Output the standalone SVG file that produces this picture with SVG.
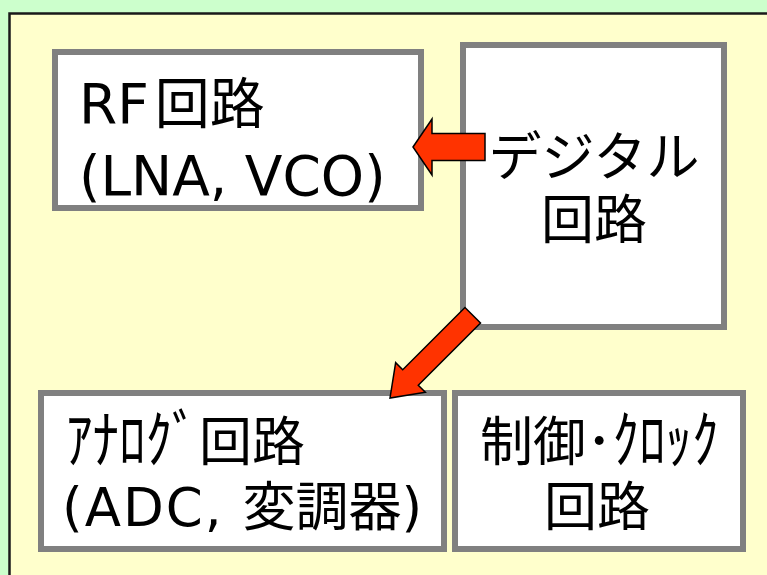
<svg xmlns="http://www.w3.org/2000/svg" width="767" height="575" viewBox="0 0 767 575">
<style>
.box{fill:#FFFFFF;stroke:#808080;stroke-width:6}
.t{font-family:"DejaVu Sans","Noto Sans CJK JP",sans-serif;fill:#000000}
.arr{fill:#FF3300;stroke:#000000;stroke-width:1.5;stroke-linejoin:miter}
</style>
<rect x="0" y="0" width="767" height="575" fill="#CCFFCC"/>
<rect x="9.5" y="13.5" width="800" height="600" fill="#FFFFCC" stroke="#1a1a1a" stroke-width="2.5"/>
<g id="rf">
<rect class="box" x="55" y="52" width="366" height="156"/>
<text class="t" x="79" y="123" font-size="55">RF<tspan dx="6">回路</tspan></text>
<text class="t" x="79" y="195" font-size="55">(LNA, VCO)</text>
</g>
<g id="digital">
<rect class="box" x="463" y="45" width="261" height="282"/>
<text class="t" x="594" y="176" font-size="53" text-anchor="middle">デジタル</text>
<text class="t" x="594" y="239" font-size="53" text-anchor="middle">回路</text>
</g>
<g id="analog">
<rect class="box" x="41" y="393" width="403" height="156"/>
<text class="t" font-size="53" transform="translate(66,462) scale(1,1.18)">ｱﾅﾛｸﾞ</text>
<text class="t" x="199" y="461" font-size="53">回路</text>
<text class="t" x="62" y="526" font-size="53"><tspan letter-spacing="2">(ADC, </tspan>変調器)</text>
</g>
<g id="control">
<rect class="box" x="455" y="393" width="288" height="156"/>
<text class="t" x="480" y="461" font-size="53">制御･</text>
<text class="t" font-size="53" transform="translate(612.5,462) scale(1,1.18)">ｸﾛｯｸ</text>
<text class="t" x="597" y="526" font-size="53" text-anchor="middle">回路</text>
</g>
<g id="connectors">
<polygon class="arr" transform="translate(413,147)" points="0,0 19,-28 19,-13.5 72,-13.5 72,13.5 19,13.5 19,28"/>
<polygon class="arr" transform="translate(390,398) rotate(-45)" points="0,0 29,-21 29,-11 117,-11 117,11 29,11 29,21"/>
</g>
</svg>
